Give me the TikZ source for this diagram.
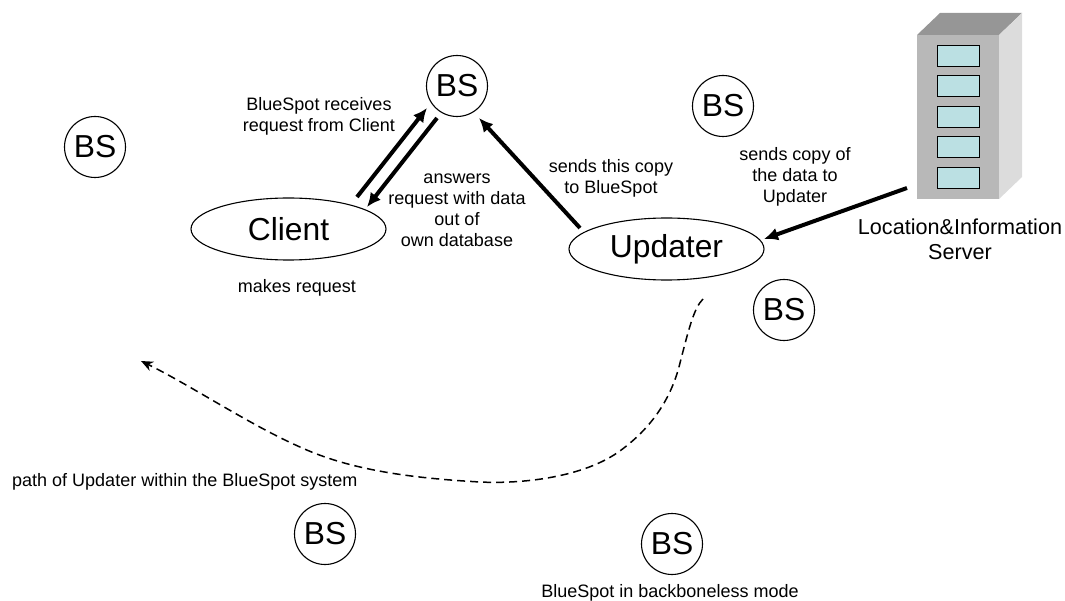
\documentclass[tikz,border=0pt]{standalone}
\usepackage{fontspec}
\setmainfont{Liberation Sans}
\usetikzlibrary{arrows.meta,shapes.geometric}
\definecolor{slotc}{HTML}{BBE0E3}
\definecolor{frontc}{HTML}{B8B8B8}
\definecolor{topc}{HTML}{969696}
\definecolor{sidec}{HTML}{DCDCDC}
\tikzset{
 x=1pt,y=-1pt,
 bs/.style={circle,draw,line width=1.1pt,minimum size=61pt,inner sep=0pt,font=\fontsize{31.8}{34}\selectfont},
 actor/.style={ellipse,draw,line width=1.1pt,inner sep=0pt,minimum width=195pt,minimum height=62pt,font=\fontsize{31.8}{34}\selectfont},
 lab/.style={align=center,font=\fontsize{18}{21}\selectfont,inner sep=0pt},
 big/.style={align=center,font=\fontsize{21.6}{25}\selectfont,inner sep=0pt},
 flow/.style={line width=4pt,-{Latex[length=14pt,width=13pt]}},
 slot/.style={draw,line width=1pt,fill=slotc},
}
\begin{document}
\begin{tikzpicture}
\useasboundingbox (0,0) rectangle (1065,601);
\fill[topc] (917,35) -- (940,13) -- (1022,13) -- (999,35) -- cycle;
\fill[frontc] (917,35) rectangle (999,199);
\fill[sidec] (999,35) -- (1022,13) -- (1022,177) -- (999,199) -- cycle;
\foreach \y in {46,76,107,137,168}{
  \draw[slot] (937,\y) rectangle (979,\y+20.5);
}
\coordinate (srv) at (907,188);
\node[bs] (b1) at (457,86) {BS};
\node[bs] (b2) at (723,106) {BS};
\node[bs] (b3) at (95,147) {BS};
\node[bs] (b4) at (784,310) {BS};
\node[bs] (b5) at (325,534) {BS};
\node[bs] (b6) at (672,544) {BS};
\node[actor] (client) at (288.5,229) {Client};
\node[actor] (upd) at (666.5,249) {Updater};
\coordinate (c1) at (357,197);
\coordinate (b1a) at (427,108);
\coordinate (b1b) at (437,118);
\coordinate (c2) at (367,207);
\coordinate (u1) at (580,228);
\coordinate (b1c) at (479,118);
\coordinate (u2) at (764,239);
\draw[flow] (c1) -- (b1a);
\draw[flow] (b1b) -- (c2);
\draw[flow] (u1) -- (b1c);
\draw[flow] (srv) -- (u2);
\coordinate (ps) at (703,299);
\coordinate (pe) at (141,361);
\draw[dash pattern=on 8pt off 5pt,line width=1.5pt,-{Stealth[length=12pt,width=10pt]}] (ps) .. controls (694,308) and (689,328) .. (680,363) .. controls (671,400) and (650,430) .. (617,453) .. controls (580,478) and (520,484) .. (480,482) .. controls (410,478) and (350,470) .. (300,447) .. controls (250,425) and (190,385) .. (pe);
\node[lab] (t1) at (319,116) {BlueSpot receives\\request from Client};
\node[lab] (t2) at (457,210) {answers\\request with data\\out of\\own database};
\node[lab] (t3) at (297,288) {makes request};
\node[lab] (t4) at (611,178) {sends this copy\\to BlueSpot};
\node[lab] (t5) at (795,177) {sends copy of\\the data to\\Updater};
\node[big] (t6) at (960,239) {Location\&Information\\Server};
\node[lab,anchor=west] (t7) at (12,482) {path of Updater within the BlueSpot system};
\node[lab] (t8) at (670,593) {BlueSpot in backboneless mode};
\end{tikzpicture}
\end{document}
